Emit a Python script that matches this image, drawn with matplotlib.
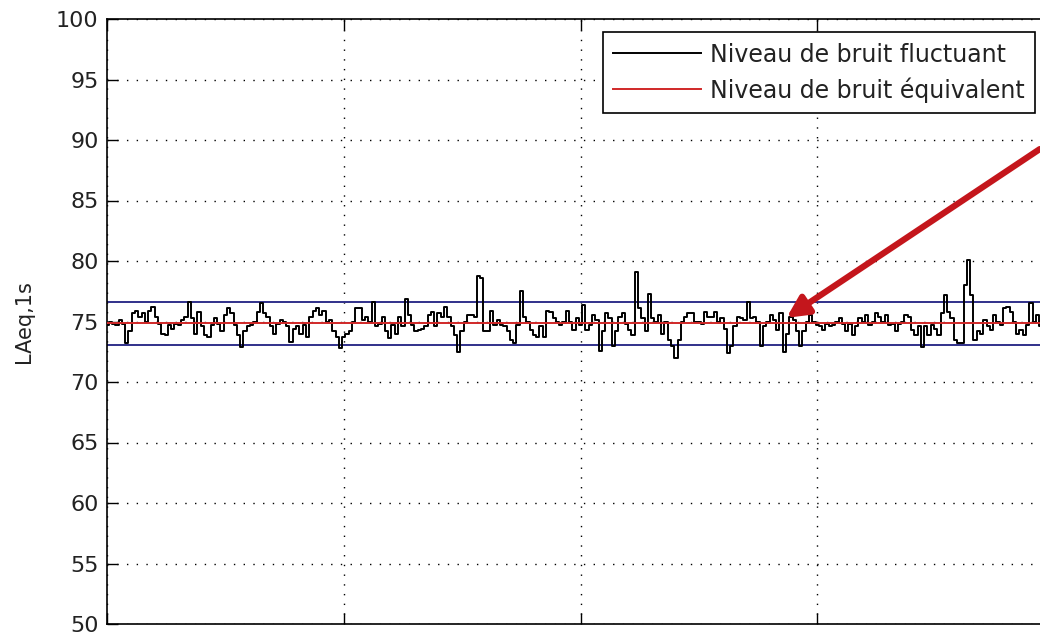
import numpy as np
import matplotlib.pyplot as plt

# LAeq,1s niveaux (dB)
niveau_fluctuant = [
    74.7, 75.0, 74.8, 74.7, 75.1, 74.8, 73.2, 74.2, 75.7, 75.9, 75.4, 75.7,
    75.0, 75.9, 76.2, 75.4, 74.8, 74.0, 73.9, 74.7, 74.4, 74.8, 74.7, 75.1,
    75.4, 76.6, 75.3, 74.0, 75.8, 74.6, 73.9, 73.7, 74.7, 75.3, 74.8, 74.2,
    75.5, 76.1, 75.7, 74.7, 73.9, 72.9, 74.2, 74.6, 74.7, 75.0, 75.8, 76.5,
    75.7, 75.4, 74.6, 74.0, 74.8, 75.1, 75.0, 74.6, 73.3, 74.4, 74.6, 74.0,
    74.7, 73.7, 75.4, 75.9, 76.1, 75.5, 75.9, 75.0, 75.1, 74.2, 73.7, 72.8,
    73.7, 74.0, 74.2, 75.0, 76.1, 76.1, 75.1, 75.4, 75.0, 76.6, 74.6, 74.8,
    75.4, 74.2, 73.6, 74.7, 74.0, 75.4, 74.6, 76.9, 75.5, 74.7, 74.2,
    74.3, 74.4, 74.6, 75.5, 75.8, 74.6, 75.7, 75.4, 76.2, 75.4, 74.6, 73.9,
    72.5, 74.2, 75.0, 75.5, 75.5, 75.4, 78.8, 78.6, 74.2, 74.2, 75.9, 74.7,
    75.1, 74.7, 74.6, 74.2, 73.5, 73.2, 74.7, 77.5, 75.4, 75.0, 74.3, 73.9,
    73.7, 74.6, 73.7, 75.9, 75.8, 75.3, 75.0, 74.7, 75.0, 75.9, 75.0, 74.3,
    75.3, 74.7, 76.4, 74.3, 74.7, 75.5, 75.1, 72.6, 74.2, 75.7, 75.3, 73.0,
    74.2, 75.4, 75.7, 74.8, 74.3, 73.9, 79.1, 76.1, 75.3, 74.2, 77.3, 75.3,
    75.0, 75.5, 74.0, 75.0, 73.5, 73.0, 72.0, 73.5, 75.0, 75.4, 75.7, 75.7,
    75.0, 75.0, 74.8, 75.8, 75.4, 75.4, 75.8, 75.0, 75.3, 74.4, 72.4,
    73.0, 74.6, 75.4, 75.3, 75.1, 76.6, 75.3, 75.4, 75.0, 73.0, 74.6, 75.0,
    75.5, 75.1, 74.3, 75.7, 72.5, 74.0, 75.4, 75.1, 74.2, 73.0, 74.2, 75.0,
    75.5, 75.0, 74.7, 74.6, 74.3, 74.8, 74.6, 74.7, 75.0, 75.3, 74.8, 74.2,
    74.8, 73.9, 74.6, 75.3, 75.0, 75.5, 74.7, 75.0, 75.7, 75.4, 75.0,
    75.5, 74.7, 74.8, 74.2, 74.8, 75.0, 75.5, 75.4, 74.3, 73.9, 74.6, 72.9,
    74.6, 73.9, 74.7, 74.4, 73.9, 75.7, 77.2, 75.8, 75.3, 73.5, 73.2, 73.2,
    78.0, 80.1, 77.2, 73.5, 74.2, 74.0, 75.1, 74.6, 74.3, 75.5, 75.0, 74.7,
    76.1, 76.2, 75.8, 75.0, 74.0, 74.3, 73.9, 74.7, 76.5, 75.0, 75.5, 74.6,
    75.2, 74.8, 75.0, 74.6,
]
niveau_equivalent = 74.9
bande_haute = 76.6
bande_basse = 73.05

y_ticks = [50, 55, 60, 65, 70, 75, 80, 85, 90, 95, 100]
x_ticks = [0, 1, 2, 3, 4]

plt.rcParams['font.family'] = 'DejaVu Sans'

fig = plt.figure(figsize=(10.4, 6.35), dpi=100)
ax = fig.add_axes([107 / 1040, 11 / 635, (1054 - 107) / 1040, 605 / 635])

n = len(niveau_fluctuant)
t = np.linspace(0, 4, n)

ax.plot(t, niveau_fluctuant, color='black', lw=1.4, drawstyle='steps-mid',
        label='Niveau de bruit fluctuant', zorder=3)
ax.axhline(niveau_equivalent, color='#d02828', lw=1.4,
           label='Niveau de bruit équivalent', zorder=4)
ax.axhline(bande_haute, color='#30308a', lw=1.4, zorder=2)
ax.axhline(bande_basse, color='#30308a', lw=1.4, zorder=2)

ax.set_xlim(0, 4)
ax.set_ylim(50, 100)
ax.set_yticks(y_ticks)
ax.set_xticks(x_ticks)
ax.set_xticklabels([''] * len(x_ticks))
ax.tick_params(direction='in', length=8, width=1, top=True, right=True,
               labelsize=16, pad=6, colors='black', labelcolor='#222222')
ax.grid(True, color='black', linestyle=(0, (1, 6)), lw=1.0)
for s in ax.spines.values():
    s.set_linewidth(1.2)

ax.set_ylabel('LAeq,1s', fontsize=15, labelpad=16, color='#222222')

leg = ax.legend(loc='upper right', bbox_to_anchor=(1035 / 1040, 1 - 32 / 635),
                bbox_transform=fig.transFigure, fontsize=17, frameon=True,
                fancybox=False, framealpha=1, edgecolor='black',
                handlelength=3.7, handletextpad=0.38, labelspacing=0.45,
                borderpad=0.45, borderaxespad=0)
leg.get_frame().set_linewidth(1.2)
for txt in leg.get_texts():
    txt.set_color('#222222')

# flèche rouge vers le signal
ax.annotate('', xy=(2.87, 75.3), xytext=(0.985, 0.785), textcoords='axes fraction',
            arrowprops=dict(arrowstyle='-|>', lw=4.5, color='#c4161c',
                            mutation_scale=32, shrinkA=0, shrinkB=0),
            zorder=6, annotation_clip=False)

fig.savefig('out.png', dpi=100)
